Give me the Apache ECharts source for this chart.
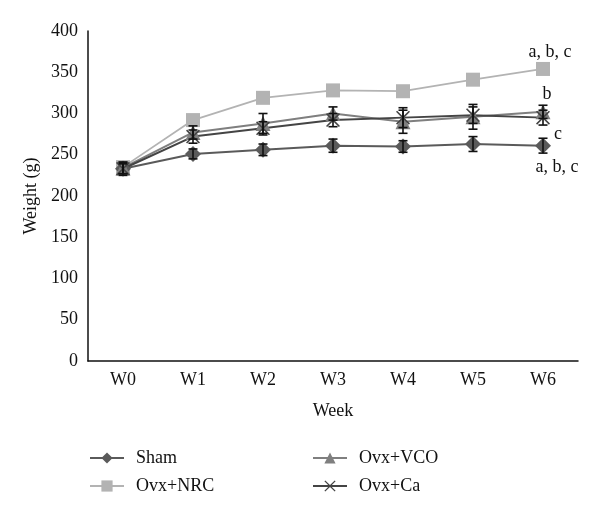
<!DOCTYPE html>
<html>
<head>
<meta charset="utf-8">
<script src="https://cdn.jsdelivr.net/npm/echarts@6/dist/echarts.min.js"></script>
<style>html,body{margin:0;padding:0;background:#fff}#c{width:600px;height:506px}</style>
</head>
<body>
<div id="c"></div>
<script>
var weeks = ['W0', 'W1', 'W2', 'W3', 'W4', 'W5', 'W6'];
var yTicks = [0, 50, 100, 150, 200, 250, 300, 350, 400];
var sham = [233, 251, 256, 261, 260, 263, 261];
var shamErr = [8, 6, 7, 8, 7, 9, 9];
var nrc = [235, 292, 319, 328, 327, 341, 354];
var vco = [234, 277, 288, 300, 290, 296, 302];
var vcoErr = [7, 8, 12, 8, 14, 15, 8];
var ca = [233, 272, 282, 292, 295, 298, 295];
var caErr = [6, 8, 8, 8, 12, 10, 9];
var annotSham = 'a, b, c';
var annotNrc = 'a, b, c';
var annotVco = 'b';
var annotCa = 'c';

var FONT = '"Liberation Serif", "DejaVu Serif", serif';
var xPath = 'path://M0,8 L8,0 L50,42 L92,0 L100,8 L58,50 L100,92 L92,100 L50,58 L8,100 L0,92 L42,50 Z';

function errData(vals, errs) {
  return vals.map(function (v, i) { return [i, v - errs[i], v + errs[i]]; });
}
function errSeries(name, vals, errs) {
  return {
    type: 'custom', name: name + ' err', z: 4, silent: true,
    data: errData(vals, errs),
    encode: { x: 0, y: [1, 2] },
    renderItem: function (params, api) {
      var lo = api.coord([api.value(0), api.value(1)]);
      var hi = api.coord([api.value(0), api.value(2)]);
      var w = 4.5;
      var st = { stroke: '#111', lineWidth: 1.6 };
      return { type: 'group', children: [
        { type: 'line', shape: { x1: lo[0], y1: lo[1], x2: hi[0], y2: hi[1] }, style: st },
        { type: 'line', shape: { x1: lo[0] - w, y1: lo[1], x2: lo[0] + w, y2: lo[1] }, style: st },
        { type: 'line', shape: { x1: hi[0] - w, y1: hi[1], x2: hi[0] + w, y2: hi[1] }, style: st }
      ]};
    }
  };
}
function annot(vals, text, offset) {
  return {
    symbol: 'circle', symbolSize: 0, silent: true,
    data: [{ coord: [weeks.length - 1, vals[vals.length - 1]] }],
    label: { show: true, formatter: text, position: 'inside', offset: offset,
      color: '#111', fontFamily: FONT, fontSize: 18 },
    itemStyle: { color: 'rgba(0,0,0,0)' }
  };
}
var legendText = { fontFamily: FONT, fontSize: 18, lineHeight: 18, color: '#111', padding: [0, 0, 0, 7] };

var chart = echarts.init(document.getElementById('c'), null, { renderer: 'canvas' });
chart.setOption({
  animation: false,
  backgroundColor: '#fff',
  grid: { left: 88, right: 22, top: 31, bottom: 145, containLabel: false },
  legend: [
    { data: ['Sham', 'Ovx+NRC'], orient: 'vertical', left: 89, top: 449, height: 57, width: 200,
      itemWidth: 34, itemHeight: 14, itemGap: 10, padding: 0, textStyle: legendText },
    { data: ['Ovx+VCO', 'Ovx+Ca'], orient: 'vertical', left: 312, top: 449, height: 57, width: 200,
      itemWidth: 34, itemHeight: 14, itemGap: 10, padding: 0, textStyle: legendText }
  ],
  xAxis: {
    type: 'category', data: weeks, boundaryGap: true,
    name: 'Week', nameLocation: 'middle', nameGap: 41,
    nameTextStyle: { fontFamily: FONT, fontSize: 18, color: '#111' },
    axisLine: { lineStyle: { color: '#111', width: 1.5 } },
    axisTick: { show: false },
    axisLabel: { fontFamily: FONT, fontSize: 18, color: '#111', margin: 10 }
  },
  yAxis: {
    type: 'value', min: yTicks[0], max: yTicks[yTicks.length - 1], interval: 50,
    name: 'Weight (g)', nameLocation: 'middle', nameGap: 46,
    nameTextStyle: { fontFamily: FONT, fontSize: 18, color: '#111' },
    axisLine: { show: true, lineStyle: { color: '#111', width: 1.5 } },
    axisTick: { show: false },
    splitLine: { show: false },
    axisLabel: { fontFamily: FONT, fontSize: 18, color: '#111', margin: 10 }
  },
  series: [
    { name: 'Sham', type: 'line', data: sham, symbol: 'diamond', symbolSize: 16, z: 3,
      lineStyle: { color: '#5a5a5a', width: 2 }, itemStyle: { color: '#5a5a5a' },
      markPoint: annot(sham, annotSham, [14, 22]) },
    { name: 'Ovx+NRC', type: 'line', data: nrc, symbol: 'rect', symbolSize: 14, z: 2,
      lineStyle: { color: '#b3b3b3', width: 1.8 }, itemStyle: { color: '#b3b3b3' },
      markPoint: annot(nrc, annotNrc, [7, -17]) },
    { name: 'Ovx+VCO', type: 'line', data: vco, symbol: 'triangle', symbolSize: 15, z: 3,
      lineStyle: { color: '#7f7f7f', width: 2 }, itemStyle: { color: '#7f7f7f' },
      markPoint: annot(vco, annotVco, [4, -18]) },
    { name: 'Ovx+Ca', type: 'line', data: ca, symbol: xPath, symbolSize: 14, z: 3,
      lineStyle: { color: '#444', width: 2 }, itemStyle: { color: '#444' },
      markPoint: annot(ca, annotCa, [15, 17]) },
    errSeries('Sham', sham, shamErr),
    errSeries('Ovx+VCO', vco, vcoErr),
    errSeries('Ovx+Ca', ca, caErr)
  ]
});
</script>
</body>
</html>
